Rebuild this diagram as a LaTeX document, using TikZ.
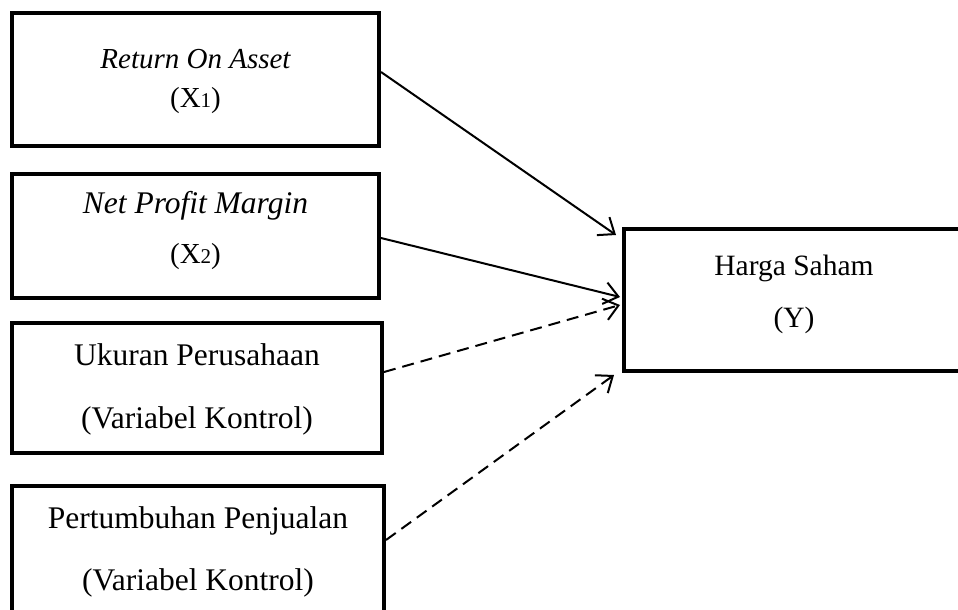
\documentclass[tikz,border=0pt]{standalone}
\usepackage{fontspec}
\setmainfont{Liberation Serif}
\usetikzlibrary{arrows.meta}
\tikzset{
  vbox/.style={draw=black, line width=4pt, rectangle, inner sep=0pt, fill=white},
  lbl/.style={anchor=base, inner sep=0pt},
  solidarrow/.style={line width=2pt, -{Straight Barb[length=14pt,width=22pt,line width=2pt]}},
  dasharrow/.style={solidarrow, dash pattern=on 12pt off 7pt},
}
\newcommand{\fa}{\fontsize{29}{35}\selectfont}
\newcommand{\fb}{\fontsize{31.5}{38}\selectfont}
\newcommand{\smallsub}[1]{{\fontsize{21}{21}\selectfont #1}}
\begin{document}
\begin{tikzpicture}[x=1pt,y=-1pt]
\useasboundingbox (0,0) rectangle (958,610);
\clip (0,0) rectangle (958,610);
\fill[white] (0,0) rectangle (958,610);
% boxes
\node[vbox, minimum width=367pt, minimum height=133pt] (roa) at (195.5,79.5) {};
\node[vbox, minimum width=367pt, minimum height=124pt] (npm) at (195.5,236) {};
\node[vbox, minimum width=370pt, minimum height=130pt] (uk) at (197,388) {};
\node[vbox, minimum width=372pt, minimum height=140pt] (pp) at (198,556) {};
\node[vbox, minimum width=340pt, minimum height=142pt] (hs) at (794,300) {};
% texts
\node[lbl] (roa1) at (195.5,68) {\fa\itshape Return On Asset};
\node[lbl] (roa2) at (195.5,107) {\fa (X\smallsub{1})};
\node[lbl] (npm1) at (195.5,213) {\fb\itshape Net Profit Margin};
\node[lbl] (npm2) at (195.5,263) {\fa (X\smallsub{2})};
\node[lbl] (uk1) at (197,365) {\fb Ukuran Perusahaan};
\node[lbl] (uk2) at (197,428) {\fb (Variabel Kontrol)};
\node[lbl] (pp1) at (198,528) {\fb Pertumbuhan Penjualan};
\node[lbl] (pp2) at (198,590) {\fb (Variabel Kontrol)};
\node[lbl] (hs1) at (794,275) {\fontsize{29.5}{35}\selectfont Harga Saham};
\node[lbl] (hs2) at (794,327) {\fontsize{29.5}{35}\selectfont (Y)};
% arrows
\draw[solidarrow] ([yshift=7.5pt]roa.east) -- ([xshift=-6pt,yshift=-8pt]hs.north west);
\draw[solidarrow] ([yshift=-2pt]npm.east) -- ([xshift=-2pt,yshift=3pt]hs.west);
\draw[dasharrow] ([yshift=16pt]uk.east) -- ([xshift=-2pt,yshift=-5pt]hs.west);
\draw[dasharrow] ([yshift=16pt]pp.east) -- ([xshift=-8pt,yshift=-2pt]hs.south west);
\end{tikzpicture}
\end{document}
